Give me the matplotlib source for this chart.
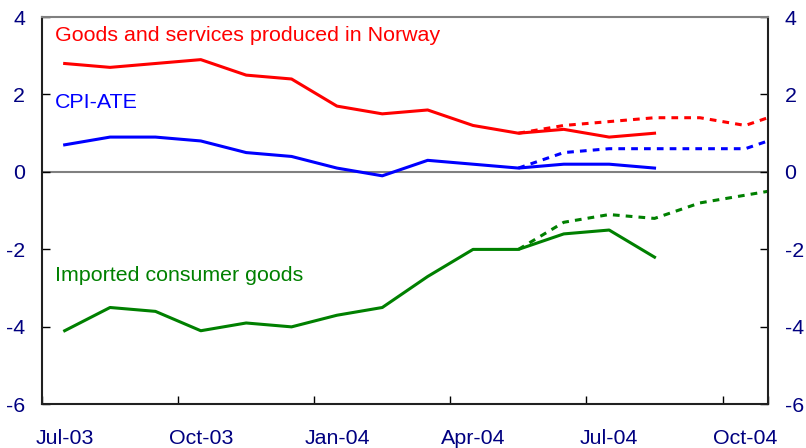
#!/usr/bin/env python3
# -*- coding: utf-8 -*-

"""
Consumer price indices: CPI-ATE, Norwegian goods and services and
imported consumer goods, 12-month change with projections (dotted).
"""

import matplotlib
matplotlib.use("Agg")
from matplotlib import pyplot as plt


# DATA ########################################################################

months = ['Jul-03', 'Aug-03', 'Sep-03', 'Oct-03', 'Nov-03', 'Dec-03',
          'Jan-04', 'Feb-04', 'Mar-04', 'Apr-04', 'May-04', 'Jun-04',
          'Jul-04', 'Aug-04', 'Sep-04', 'Oct-04', 'Nov-04']

# actual figures, Jul-03 .. Aug-04
norway = [2.8, 2.7, 2.8, 2.9, 2.5, 2.4, 1.7, 1.5, 1.6, 1.2, 1.0, 1.1, 0.9, 1.0]
cpi_ate = [0.7, 0.9, 0.9, 0.8, 0.5, 0.4, 0.1, -0.1, 0.3, 0.2, 0.1, 0.2, 0.2, 0.1]
imported = [-4.1, -3.5, -3.6, -4.1, -3.9, -4.0, -3.7, -3.5, -2.7, -2.0, -2.0,
            -1.6, -1.5, -2.2]

# projections, May-04 .. Nov-04
proj_start = 10
norway_proj = [1.0, 1.2, 1.3, 1.4, 1.4, 1.2, 1.6]
cpi_ate_proj = [0.1, 0.5, 0.6, 0.6, 0.6, 0.6, 1.0]
imported_proj = [-2.0, -1.3, -1.1, -1.2, -0.8, -0.6, -0.4]

yticks = [-6, -4, -2, 0, 2, 4]

# STYLE #######################################################################

plt.rcParams['font.family'] = ['Liberation Sans', 'DejaVu Sans']
LABEL_COLOR = '#000080'
FS = 15.4
LW = 2.2
DASH = (2.2, 2.0)

# PLOT ########################################################################

fig = plt.figure(figsize=(8.06, 4.48), dpi=100)
ax = fig.add_axes([0.0521, 0.0975, 0.9007, 0.8645])

ax.axhline(0, color='#808080', lw=1.5, zorder=1)

series = [(norway, norway_proj, '#ff0000'),
          (cpi_ate, cpi_ate_proj, '#0000ff'),
          (imported, imported_proj, '#008000')]

for actual, proj, col in series:
    ax.plot(range(len(actual)), actual, color=col, lw=LW,
            solid_joinstyle='round', zorder=3)
    ax.plot(range(proj_start, proj_start + len(proj)), proj, color=col,
            lw=LW, dashes=DASH, zorder=2)

ax.text(-0.22, 3.53, 'Goods and services produced in Norway',
        color='#ff0000', fontsize=FS, va='center')
ax.text(-0.22, 1.8, 'CPI-ATE', color='#0000ff', fontsize=FS, va='center')
ax.text(-0.22, -2.68, 'Imported consumer goods', color='#008000',
        fontsize=FS, va='center')

# AXES ########################################################################

ax.set_xlim(-0.5, 15.5)
ax.set_ylim(-6, 4)

ax.set_yticks(yticks)
ax.set_yticklabels([str(t) for t in yticks])
ax.tick_params(axis='y', direction='in', length=6, width=1,
               left=True, right=True, labelleft=True, labelright=True,
               labelsize=FS, labelcolor=LABEL_COLOR, pad=12)

# tick marks between quarters, labels under the month
ax.set_xticks([i - 0.5 for i in range(0, 16, 3)] + [15.5])
ax.set_xticklabels([])
ax.set_xticks(range(0, 16, 3), minor=True)
ax.set_xticklabels([months[i] for i in range(0, 16, 3)], minor=True)
ax.tick_params(axis='x', which='major', direction='in', length=6, width=1)
ax.tick_params(axis='x', which='minor', length=0, labelsize=FS,
               labelcolor=LABEL_COLOR, pad=18)

for side in ['left', 'right', 'bottom']:
    ax.spines[side].set_color('#202020')
    ax.spines[side].set_linewidth(1.5)
ax.spines['top'].set_color('#808080')
ax.spines['top'].set_linewidth(1.5)

fig.savefig('out.png', dpi=100)
